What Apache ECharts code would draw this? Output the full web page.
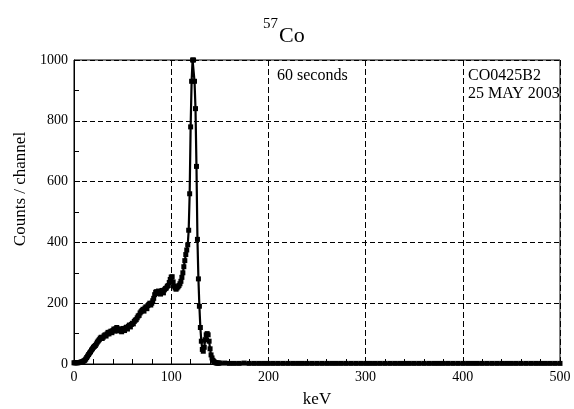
<!DOCTYPE html>
<html>
<head>
<meta charset="utf-8">
<script src="https://cdn.jsdelivr.net/npm/echarts@6/dist/echarts.min.js"></script>
<style>html,body{margin:0;padding:0;background:#fff}#c{width:574px;height:409px}</style>
</head>
<body>
<div id="c"></div>
<script>
// Spectrum: energy (keV) and counts per channel
const keV = [
  0,1,2,3,4,5,6,7,8,9,
  10,11,12,13,14,15,16,17,18,19,
  20,21,22,23,24,25,26,27,28,29,
  30,31,32,33,34,35,36,37,38,39,
  40,41,42,43,44,45,46,47,48,49,
  50,51,52,53,54,55,56,57,58,59,
  60,61,62,63,64,65,66,67,68,69,
  70,71,72,73,74,75,76,77,78,79,
  80,81,82,83,84,85,86,87,88,89,
  90,91,92,93,94,95,96,97,98,99,
  100,101,102,103,104,105,106,107,108,109,
  110,111,112,113,114,115,116,117,118,119,
  120,121,122,123,124,125,126,127,128,129,
  130,131,132,133,134,135,136,137,138,139,
  140,141,142,143,144,145,146,147,148,149,150
];
const counts = [
  4,4,4,4,4,5,5,6,7,8,
  10,12,16,21,26,31,36,40,46,50,
  55,58,61,66,72,76,80,85,88,84,
  88,93,96,92,99,104,99,105,108,103,
  110,115,108,116,120,112,109,116,110,106,
  112,117,110,118,121,115,124,128,122,130,
  134,132,140,144,146,152,158,160,168,172,
  176,180,174,184,188,182,192,196,200,194,
  200,208,216,228,236,238,232,240,236,230,
  240,242,234,244,248,250,256,258,268,278,
  286,287,270,256,250,246,250,254,258,264,
  272,285,300,320,340,360,375,392,440,560,
  780,930,1000,1000,930,840,650,410,280,190,
  120,75,48,42,55,80,96,100,96,75,
  50,30,20,12,8,5,4,3,3,3,3
];
const tailKeV = [
  155,160,165,170,175,180,185,190,195,200,
  205,210,215,220,225,230,235,240,245,250,
  255,260,265,270,275,280,285,290,295,300,
  305,310,315,320,325,330,335,340,345,350,
  355,360,365,370,375,380,385,390,395,400,
  405,410,415,420,425,430,435,440,445,450,
  455,460,465,470,475,480,485,490,495,500
];
const tailCounts = [
  3,2,2,2,3,2,2,2,2,2,
  2,2,2,2,2,2,2,2,2,2,
  2,2,2,2,2,2,2,2,2,2,
  2,2,2,2,2,2,2,2,2,2,
  2,2,2,2,2,2,2,2,2,2,
  2,2,2,2,2,2,2,2,2,2,
  2,2,2,2,2,2,2,2,2,2
];
const xTicks = [0, 100, 200, 300, 400, 500];
const yTicks = [0, 200, 400, 600, 800, 1000];

const FONT = '"Liberation Serif", "DejaVu Serif", serif';
const data = keV.map((k, i) => [k, counts[i]]).concat(tailKeV.map((k, i) => [k, tailCounts[i]]));

const chart = echarts.init(document.getElementById('c'), null, {renderer: 'canvas'});
chart.setOption({
  animation: false,
  backgroundColor: '#fff',
  grid: {left: 74, right: 14, top: 60, bottom: 45, containLabel: false, outerBoundsMode: 'none',
         show: true, borderColor: '#000', borderWidth: 1, backgroundColor: 'transparent'},
  xAxis: {
    type: 'value', min: xTicks[0], max: xTicks[xTicks.length - 1], interval: 100,
    axisLine: {show: true, onZero: false, lineStyle: {color: '#000', width: 1}},
    axisTick: {show: true, inside: true, length: 6, lineStyle: {color: '#000'}},
    minorTick: {show: true, splitNumber: 5, length: 5, lineStyle: {color: '#000'}},
    axisLabel: {color: '#000', fontFamily: FONT, fontSize: 14, margin: 6, formatter: v => String(v)},
    splitLine: {show: true, lineStyle: {color: '#000', type: [6, 3], width: 1}},
    name: 'keV', nameLocation: 'middle', nameGap: 27,
    nameTextStyle: {color: '#000', fontFamily: FONT, fontSize: 17, verticalAlign: 'top'}
  },
  yAxis: {
    type: 'value', min: yTicks[0], max: yTicks[yTicks.length - 1], interval: 200,
    axisLine: {show: true, lineStyle: {color: '#000', width: 1}},
    axisTick: {show: true, inside: true, length: 6, lineStyle: {color: '#000'}},
    minorTick: {show: true, splitNumber: 2, length: 5, lineStyle: {color: '#000'}},
    axisLabel: {color: '#000', fontFamily: FONT, fontSize: 14, margin: 6, formatter: v => String(v)},
    splitLine: {show: true, lineStyle: {color: '#000', type: [5, 3], width: 1}}
  },
  series: [{
    type: 'line',
    data: data,
    showSymbol: true,
    showAllSymbol: true,
    symbol: 'rect',
    symbolSize: 5,
    itemStyle: {color: '#000'},
    lineStyle: {color: '#000', width: 2.2},
    silent: true
  }],
  graphic: [
    {type: 'text', left: 263, top: 17, style: {text: '57', font: '15px ' + FONT, fill: '#000'}},
    {type: 'text', left: 279, top: 25, style: {text: 'Co', font: '22px ' + FONT, fill: '#000'}},
    {type: 'text', left: 277, top: 68, style: {text: '60 seconds', font: '16px ' + FONT, fill: '#000'}},
    {type: 'text', left: 468, top: 68, style: {text: 'CO0425B2', font: '16px ' + FONT, fill: '#000'}},
    {type: 'text', left: 468, top: 86, style: {text: '25 MAY 2003', font: '16px ' + FONT, fill: '#000'}},
    {type: 'text', x: 21, y: 189, rotation: Math.PI / 2,
     style: {text: 'Counts / channel', font: '17px ' + FONT, fill: '#000', align: 'center', verticalAlign: 'middle'}}
  ]
});
</script>
</body>
</html>
